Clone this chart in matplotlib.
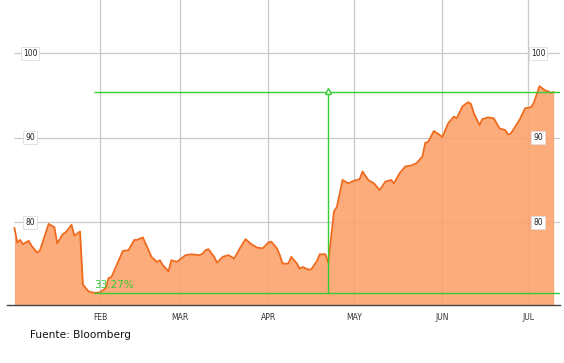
import matplotlib
matplotlib.use('Agg')
import matplotlib.pyplot as plt
import matplotlib.dates as mdates
import pandas as pd

# price series (vertices)
dates = ['2009-01-02', '2009-01-03', '2009-01-04', '2009-01-05', '2009-01-07', '2009-01-08',
         '2009-01-10', '2009-01-11', '2009-01-14', '2009-01-16', '2009-01-17', '2009-01-19',
         '2009-01-20', '2009-01-22', '2009-01-23', '2009-01-25', '2009-01-26', '2009-01-28',
         '2009-01-30', '2009-02-01', '2009-02-03', '2009-02-04', '2009-02-05', '2009-02-09',
         '2009-02-11', '2009-02-13', '2009-02-14', '2009-02-16', '2009-02-18', '2009-02-19',
         '2009-02-21', '2009-02-22', '2009-02-23', '2009-02-25', '2009-02-26', '2009-02-28',
         '2009-03-01', '2009-03-03', '2009-03-05', '2009-03-08', '2009-03-09', '2009-03-10',
         '2009-03-11', '2009-03-13', '2009-03-14', '2009-03-16', '2009-03-18', '2009-03-20',
         '2009-03-22', '2009-03-24', '2009-03-26', '2009-03-28', '2009-03-30', '2009-04-01',
         '2009-04-02', '2009-04-04', '2009-04-05', '2009-04-06', '2009-04-08', '2009-04-09',
         '2009-04-11', '2009-04-12', '2009-04-13', '2009-04-15', '2009-04-16', '2009-04-18',
         '2009-04-19', '2009-04-21', '2009-04-22', '2009-04-24', '2009-04-25', '2009-04-27',
         '2009-04-29', '2009-05-01', '2009-05-03', '2009-05-04', '2009-05-06', '2009-05-08',
         '2009-05-10', '2009-05-12', '2009-05-14', '2009-05-15', '2009-05-17', '2009-05-19',
         '2009-05-21', '2009-05-23', '2009-05-25', '2009-05-26', '2009-05-27', '2009-05-29',
         '2009-06-01', '2009-06-03', '2009-06-05', '2009-06-06', '2009-06-08', '2009-06-10',
         '2009-06-11', '2009-06-12', '2009-06-14', '2009-06-15', '2009-06-17', '2009-06-19',
         '2009-06-21', '2009-06-23', '2009-06-24', '2009-06-25', '2009-06-28', '2009-06-30',
         '2009-07-02', '2009-07-03', '2009-07-05', '2009-07-07', '2009-07-08', '2009-07-09',
         '2009-07-10']
values = [79.3, 77.6, 77.9, 77.4, 77.8, 77.2,
          76.4, 76.7, 79.8, 79.4, 77.5, 78.6,
          78.8, 79.7, 78.4, 78.9, 72.6, 71.8,
          71.63, 71.7, 72.2, 73.4, 73.5, 76.6,
          76.7, 77.9, 77.9, 78.2, 76.7, 75.9,
          75.3, 75.5, 74.9, 74.2, 75.5, 75.3,
          75.6, 76.1, 76.2, 76.1, 76.3, 76.7,
          76.8, 75.9, 75.2, 75.9, 76.1, 75.7,
          76.9, 78.0, 77.4, 77.0, 76.9, 77.6,
          77.7, 76.9, 76.1, 75.1, 75.1, 75.9,
          75.1, 74.5, 74.7, 74.4, 74.4, 75.4,
          76.2, 76.2, 75.2, 81.3, 81.8, 85.0,
          84.6, 84.9, 85.1, 86.0, 85.0, 84.6,
          83.8, 84.8, 85.0, 84.6, 85.8, 86.6,
          86.7, 87.0, 87.8, 89.4, 89.5, 90.8,
          90.1, 91.7, 92.5, 92.3, 93.7, 94.2,
          94.0, 92.9, 91.5, 92.2, 92.4, 92.3,
          91.1, 90.9, 90.4, 90.5, 92.1, 93.5,
          93.6, 94.1, 96.1, 95.6, 95.5, 95.3,
          95.4]

low_value = 71.63
high_value = 95.4
low_date = '2009-01-30'
jump_date = '2009-04-22'
change_label = '33.27%'

months = ['2009-02-01', '2009-03-01', '2009-04-01', '2009-05-01', '2009-06-01', '2009-07-01']
month_labels = ['FEB', 'MAR', 'APR', 'MAY', 'JUN', 'JUL']
yticks = [80, 90, 100]

x = pd.to_datetime(dates)
fig = plt.figure(figsize=(5.64, 3.63), dpi=100)
ax = fig.add_axes([7/564, 58/363, 553/564, 305/363])

ymin = 70.2
feb1 = mdates.date2num(pd.Timestamp('2009-02-01'))
xlo, xhi = feb1 - 32.6, feb1 + 150 + 11.2
ax.set_xlim(xlo, xhi)
ax.set_ylim(ymin, 106.3)

# grid behind a slightly see-through fill
for m in pd.to_datetime(months):
    ax.axvline(m, color='#c8c8c8', linewidth=0.9, zorder=0)
ax.hlines(yticks, xlo + 7/2.853, xhi, color='#c8c8c8', linewidth=0.9, zorder=0)

ax.fill_between(x, values, ymin, color='#fca26d', alpha=0.9, linewidth=0, zorder=1)
ax.plot(x, values, color='#ef6a1c', linewidth=1.3, zorder=3)

# green range lines
green = '#35cc35'
ax.hlines([high_value, low_value], pd.Timestamp(low_date), xhi,
          color=green, linewidth=1, zorder=4)
ax.vlines(pd.Timestamp(jump_date), low_value, high_value, color=green, linewidth=1, zorder=4)
ax.plot([pd.Timestamp(jump_date)], [high_value + 0.15], marker='^', markersize=5,
        markerfacecolor='white', markeredgecolor=green, markeredgewidth=1, zorder=5)
ax.text(pd.Timestamp(low_date), low_value + 0.4, change_label, color=green,
        fontsize=7.5, ha='left', va='bottom', zorder=5)

# y labels in boxes, both sides
for v in yticks:
    for xp in (30, 538):
        ax.annotate(str(v), xy=(xp/564, v), xycoords=('figure fraction', 'data'),
                    ha='center', va='center', fontsize=5.5, color='#222222', zorder=6,
                    bbox=dict(boxstyle='square,pad=0.25', fc='white', ec='#dddddd', lw=0.6))

ax.set_xticks(pd.to_datetime(months))
ax.set_xticklabels(month_labels)
ax.tick_params(axis='x', length=0, pad=6, labelsize=5.5, labelcolor='#333333')
ax.set_yticks([])
for s in ['top', 'left', 'right']:
    ax.spines[s].set_visible(False)
ax.spines['bottom'].set_color('#444444')
ax.spines['bottom'].set_linewidth(1)
ax.spines['bottom'].set_zorder(6)

fig.text(30/564, 1 - 335/363, 'Fuente: Bloomberg', fontsize=7.6, color='#111111',
         ha='left', va='center')

fig.savefig('out.png', dpi=100)
